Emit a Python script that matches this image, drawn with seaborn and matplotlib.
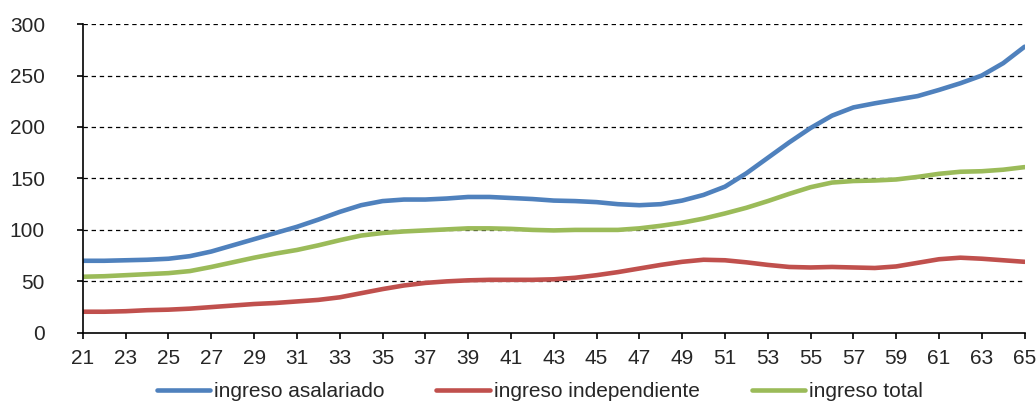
import numpy as np
import pandas as pd
import seaborn as sns
import matplotlib.pyplot as plt

# Data (age 21..65)
ages = list(range(21, 66))
asalariado = [70, 70, 70.5, 71, 72, 74.5, 79, 85, 91, 97, 103, 110, 117.5, 124, 128,
              129.5, 129.5, 130.5, 132, 132, 131, 130, 128.5, 128, 127, 125, 124, 125,
              128.5, 134, 142, 155, 170, 185, 199, 211, 219, 223, 226.5, 230, 236,
              242.5, 250, 262, 278]
independiente = [20.5, 20.5, 21, 22, 22.5, 23.5, 25, 26.5, 28, 29, 30.5, 32, 34.5, 38.5,
                 42.5, 46, 48.5, 50, 51, 51.5, 51.5, 51.5, 52, 53.5, 56, 59, 62.5, 66,
                 69, 71, 70.5, 68.5, 66, 64, 63.5, 64, 63.5, 63, 64.5, 68, 71.5, 73, 72,
                 70.5, 69]
total = [54.5, 55, 56, 57, 58, 60, 64, 68.5, 73, 77, 80.5, 85, 90, 94.5, 97, 98.5, 99.5,
         100.5, 101.5, 101.5, 101, 100, 99.5, 100, 100, 100, 101.5, 104, 107, 111, 116,
         121.5, 128, 135, 141.5, 146, 147.5, 148, 149, 151.5, 154.5, 156.5, 157, 158.5, 161]
series_names = ["ingreso asalariado", "ingreso independiente", "ingreso total"]
colors = ["#4F81BD", "#C0504D", "#9BBB59"]

df = pd.DataFrame({"edad": ages * 3,
                   "valor": asalariado + independiente + total,
                   "serie": [s for s in series_names for _ in ages]})

sns.set_style("white")
plt.rcParams['font.family'] = ['Liberation Sans', 'DejaVu Sans']

fig = plt.figure(figsize=(10.36, 4.01), dpi=100)
ax = fig.add_axes([0.080, 0.170, 0.909, 0.770])

sns.lineplot(data=df, x="edad", y="valor", hue="serie", palette=colors,
             linewidth=3.3, ax=ax, legend=True)

ax.set_xlim(21, 65)
ax.set_ylim(0, 300)
ax.set_xticks(range(21, 66, 2))
ax.set_yticks(range(0, 301, 50))
ax.set_xlabel("")
ax.set_ylabel("")
# dashed horizontal grid like the original
for y in range(50, 301, 50):
    ax.axhline(y, color="black", linewidth=0.9, linestyle=(0, (3.5, 3)), zorder=0)

for s in ["top", "right"]:
    ax.spines[s].set_visible(False)
for s in ["left", "bottom"]:
    ax.spines[s].set_color("black")
    ax.spines[s].set_linewidth(1.2)
ax.tick_params(axis="both", direction="out", length=4.3, width=1.2, color="black",
               labelsize=15, left=True, bottom=True)
ax.tick_params(axis="x", pad=7)
ax.tick_params(axis="y", pad=23)

handles, labels = ax.get_legend_handles_labels()
ax.get_legend().remove()
fig.legend(handles, labels, loc="center", bbox_to_anchor=(0.521, 0.024), ncol=3,
           frameon=False, fontsize=15, handlelength=2.55, handletextpad=0.2,
           columnspacing=2.5, borderpad=0)

fig.savefig("out.png", dpi=100)
